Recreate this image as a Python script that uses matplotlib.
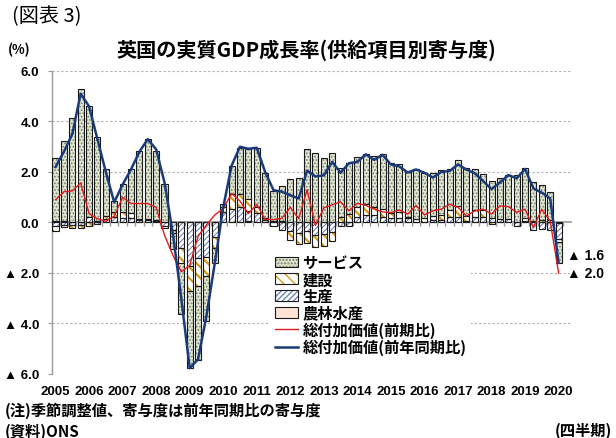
import numpy as np
import matplotlib.pyplot as plt
from matplotlib.patches import Patch
from matplotlib.lines import Line2D

# quarterly, 2005Q1 - 2020Q1
years = [str(y) for y in range(2005, 2021)]

services = [2.50, 3.20, 4.10, 5.25, 4.40, 3.35, 1.85, 0.45, 1.10, 1.75, 2.70, 3.15, 2.72, 1.50, -0.60, -2.00,
            -3.03, -2.94, -1.76, -0.59, 0.15, 1.14, 1.84, 1.98, 2.35, 1.80, 1.20, 1.40, 1.72, 1.74,
            2.92, 2.76, 2.54, 2.74, 1.95, 2.05, 1.95, 2.00, 2.00, 2.20, 2.00, 1.90, 1.80, 1.95,
            1.80, 1.70, 1.75, 1.60, 1.80, 1.90, 1.60, 1.40, 1.50, 1.60, 1.75, 1.85, 1.95, 1.55, 1.40, 1.10, -0.85]
construction = [-0.20, -0.08, -0.10, -0.12, -0.12, 0.02, 0.15, 0.20, 0.25, 0.20, 0.05, 0.05, 0.03, -0.05, -0.15, -0.59,
                -0.98, -1.11, -0.78, -0.46, 0.20, 0.59, 0.53, 0.46, 0.25, 0.06, -0.14, 0.02, -0.35, -0.45,
                -0.45, -0.48, -0.50, -0.35, 0.20, 0.30, 0.40, 0.45, 0.35, 0.30, 0.20, 0.25, 0.05, 0.12,
                0.15, 0.15, 0.20, 0.30, 0.45, 0.20, 0.30, 0.30, -0.05, 0.02, 0.02, 0.02, 0.15, 0.05, 0.08, 0.08, -0.12]
production = [-0.15, -0.08, -0.10, -0.10, 0.20, -0.05, 0.10, 0.20, 0.15, 0.15, 0.08, 0.07, 0.05, -0.15, -0.28, -1.02,
              -1.74, -1.41, -1.35, -0.56, 0.40, 0.51, 0.58, 0.41, 0.35, 0.10, 0.04, -0.28, -0.35, -0.40,
              -0.35, -0.50, -0.45, -0.37, -0.15, -0.12, 0.20, 0.25, 0.25, 0.20, 0.15, 0.15, 0.15, 0.02,
              0.02, 0.10, 0.10, 0.20, 0.20, 0.04, 0.20, 0.20, 0.15, 0.12, 0.12, -0.12, 0.03, -0.28, -0.26, -0.28, -0.62]
agriculture = [0.05, 0.04, 0.03, 0.03, 0.02, 0.02, 0.02, 0.02, 0.02, 0.02, 0.02, 0.02, 0.02, 0.02, 0.00, 0.00,
               0.00, 0.00, 0.00, 0.00, 0.00, 0.01, 0.02, 0.05, 0.02, 0.01, 0.01, 0.03, 0.01, 0.01,
               0.01, 0.01, 0.01, 0.02, 0.02, 0.02, 0.03, 0.03, 0.03, 0.02, 0.02, 0.01, 0.01, 0.01,
               0.01, 0.01, 0.01, 0.01, 0.01, 0.01, 0.01, 0.01, 0.01, 0.01, 0.01, 0.01, 0.01, 0.01, 0.01, 0.01, -0.02]
gva_qoq = [0.90, 1.22, 1.25, 1.57, 0.35, 0.15, 0.05, 0.25, 1.00, 0.75, 0.75, 0.75, 0.60, -0.50, -1.30, -1.95,
           -1.70, -0.55, -0.10, 0.30, 0.55, 1.15, 0.85, 0.35, 0.72, 0.12, 0.12, 0.16, 0.60, 0.15,
           1.30, -0.12, 0.58, 0.70, 0.82, 0.46, 0.76, 0.68, 0.53, 0.42, 0.39, 0.50, 0.33, 0.68,
           0.30, 0.46, 0.53, 0.72, 0.60, 0.26, 0.46, 0.53, 0.33, 0.66, 0.63, 0.40, 0.53, -0.20, 0.53, 0.05, -2.00]
gva_yoy = [2.20, 2.80, 3.50, 5.10, 4.60, 3.30, 2.00, 0.80, 1.50, 2.10, 2.80, 3.30, 2.90, 1.58, -0.45, -3.00,
           -5.77, -5.42, -3.70, -1.60, 0.60, 2.25, 3.00, 2.92, 2.96, 2.00, 1.28, 1.22, 1.08, 0.95,
           2.05, 1.82, 1.87, 2.40, 1.97, 2.35, 2.40, 2.70, 2.48, 2.68, 2.30, 2.22, 1.98, 2.10,
           1.97, 1.78, 2.00, 2.04, 2.30, 2.10, 1.95, 1.64, 1.32, 1.58, 1.88, 1.75, 2.12, 1.35, 1.18, 0.95, -1.60]

jp = ['Noto Sans CJK JP', 'DejaVu Sans']
num = ['Liberation Sans', 'DejaVu Sans']

fig = plt.figure(figsize=(6.16, 4.39), dpi=100)
ax = fig.add_axes([0.0844, 0.1458, 0.8442, 0.6902])

x = np.arange(len(services))
# bottom to top of stack: agriculture, production, construction, services
layers = [
    (agriculture, '#fde4d6', None, '#fde4d6', '農林水産'),
    (production, 'white', '//////', '#7486b3', '生産'),
    (construction, 'white', '\\\\\\', '#d39c18', '建設'),
    (services, '#dde5cf', '.....', '#7a8272', 'サービス'),
]

pos = np.zeros(len(x))
neg = np.zeros(len(x))
handles = {}
for vals, face, hatch, hcol, name in layers:
    v = np.array(vals)
    bottom = np.where(v >= 0, pos, neg)
    fill = ax.bar(x, v, 0.72, bottom=bottom, color=face, edgecolor=hcol,
                  hatch=hatch, linewidth=0, zorder=2)
    for p in fill:
        try:
            p.set_hatch_linewidth(1.6 if name == '建設' else 0.8)
        except AttributeError:
            pass
    ax.bar(x, v, 0.72, bottom=bottom, color='none', edgecolor='#1a1a1a',
           linewidth=0.8, zorder=3)
    pos = pos + np.where(v > 0, v, 0)
    neg = neg + np.where(v < 0, v, 0)
    ph = Patch(facecolor=face, edgecolor=hcol, hatch=hatch, linewidth=0)
    try:
        ph.set_hatch_linewidth(1.6 if name == '建設' else 0.8)
    except AttributeError:
        pass
    handles[name] = (ph, Patch(facecolor='none', edgecolor='#1a1a1a', linewidth=0.8))

ax.plot(x, gva_qoq, color='#e31a1c', lw=1.0, zorder=4)
ax.plot(x, gva_yoy, color='#1b3a7a', lw=1.8, zorder=5)

# zero line with small ticks between quarters
ax.axhline(0, color='#9a9a9a', lw=1.2, zorder=1.5)
ax.vlines(np.arange(len(x) + 1) - 0.5, -0.13, 0, color='#9a9a9a', lw=1.0, zorder=1.5)

ax.set_xlim(-0.42, 61.6)
ax.set_ylim(-6, 6)
yt = np.arange(-6, 7, 2)
ax.set_yticks(yt)
ax.set_yticklabels([f'{v:.1f}' if v >= 0 else f'▲ {abs(v):.1f}' for v in yt],
                   fontfamily=num, fontweight='bold', fontsize=9.5)
ax.set_xticks(x[::4])
ax.set_xticklabels(years, fontfamily=num, fontweight='bold', fontsize=9.5)
ax.tick_params(axis='x', length=0, pad=8)
ax.tick_params(axis='y', length=3, color='#9a9a9a', pad=6)
ax.grid(axis='y', linestyle=(0, (2, 2)), color='#b0b0b0', lw=0.8, zorder=0)
for s in ['top', 'right', 'bottom']:
    ax.spines[s].set_visible(False)
ax.spines['left'].set_color('#9a9a9a')
ax.spines['left'].set_linewidth(1.0)

# end-point labels
ax.text(x[-1] + 1.0, gva_yoy[-1] + 0.3, f'▲ {abs(gva_yoy[-1]):.1f}', fontfamily=num,
        fontweight='bold', fontsize=10, va='center', ha='left')
ax.text(x[-1] + 1.0, gva_qoq[-1], f'▲ {abs(gva_qoq[-1]):.1f}', fontfamily=num,
        fontweight='bold', fontsize=10, va='center', ha='left')

leg_handles = [handles['サービス'], handles['建設'], handles['生産'], handles['農林水産'],
               Line2D([], [], color='#e31a1c', lw=1.0),
               Line2D([], [], color='#1b3a7a', lw=1.8)]
leg_labels = ['サービス', '建設', '生産', '農林水産', '総付加価値(前期比)', '総付加価値(前年同期比)']
leg = ax.legend(leg_handles, leg_labels, loc='upper left', bbox_to_anchor=(0.42, 0.41),
                frameon=True, facecolor='white', edgecolor='none', framealpha=1,
                prop={'family': jp, 'weight': 'bold', 'size': 11},
                handlelength=1.5, handleheight=0.7, handletextpad=0.3,
                labelspacing=0.05, borderpad=0.3, borderaxespad=0)
leg.set_zorder(6)

fig.text(0.02, 0.961, '(図表 3)', fontfamily=jp, fontsize=14.5, va='center', ha='left')
fig.text(0.013, 0.886, '(%)', fontfamily=jp, fontweight='bold', fontsize=9.5, va='center', ha='left')
fig.text(0.497, 0.886, '英国の実質GDP成長率(供給項目別寄与度)', fontfamily=jp, fontweight='bold',
         fontsize=14.5, va='center', ha='center')
fig.text(0.008, 0.064, '(注)季節調整値、寄与度は前年同期比の寄与度', fontfamily=jp,
         fontweight='bold', fontsize=11, va='center', ha='left')
fig.text(0.008, 0.016, '(資料)ONS', fontfamily=jp, fontweight='bold', fontsize=11,
         va='center', ha='left')
fig.text(0.994, 0.018, '(四半期)', fontfamily=jp, fontweight='bold', fontsize=11,
         va='center', ha='right')

fig.savefig('out.png', dpi=100)
